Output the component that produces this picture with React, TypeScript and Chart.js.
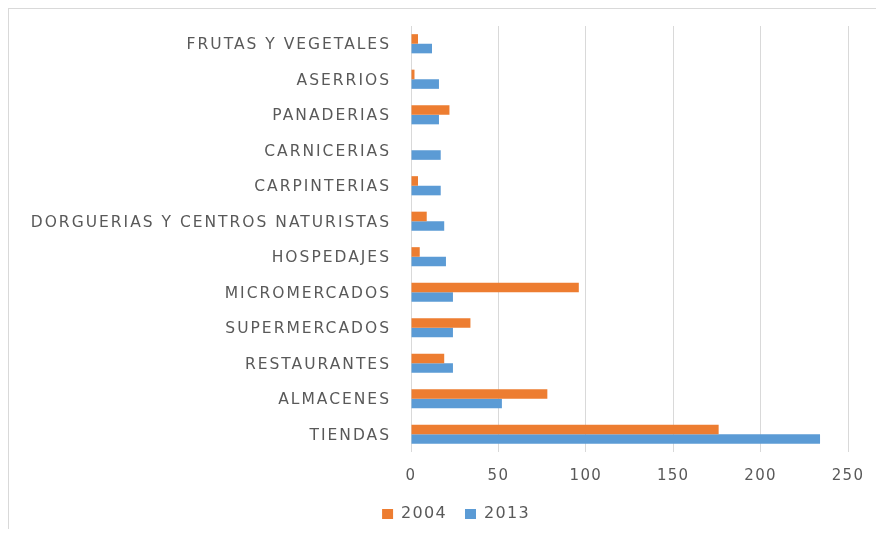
import React, { useEffect, useRef } from 'react';
import { Chart, registerables } from 'chart.js';

Chart.register(...registerables);

const categories = [
  'FRUTAS Y VEGETALES',
  'ASERRIOS',
  'PANADERIAS',
  'CARNICERIAS',
  'CARPINTERIAS',
  'DORGUERIAS Y CENTROS NATURISTAS',
  'HOSPEDAJES',
  'MICROMERCADOS',
  'SUPERMERCADOS',
  'RESTAURANTES',
  'ALMACENES',
  'TIENDAS',
];
const values2004 = [4, 2, 22, 0, 4, 9, 5, 96, 34, 19, 78, 176];
const values2013 = [12, 16, 16, 17, 17, 19, 20, 24, 24, 24, 52, 234];
const seriesLabels = ['2004', '2013'];
const xTicks = [0, 50, 100, 150, 200, 250];

const FONT = "'DejaVu Sans', sans-serif";
const TEXT = '#595959';
const ORANGE = '#ED7D31';
const BLUE = '#5B9BD5';
const GRID = '#D9D9D9';

const spacingPlugin = {
  id: 'letterSpacing',
  beforeLayout(chart: any) {
    chart.ctx.letterSpacing = '1.3px';
  },
  afterLayout(chart: any) {
    const ys = chart.scales.y;
    if (ys && !ys.__patched) {
      const orig = ys.drawLabels.bind(ys);
      ys._computeLabelArea = () => undefined;
      ys.drawLabels = (area: any) => {
        const c = chart.ctx;
        c.save();
        c.letterSpacing = '2px';
        c.translate(0, 1.5);
        orig(area);
        c.restore();
      };
      ys.__patched = true;
    }
  },
  beforeDraw(chart: any) {
    chart.ctx.letterSpacing = '1.3px';
  },
};

export default function App() {
  const ref = useRef<HTMLCanvasElement | null>(null);

  useEffect(() => {
    if (!ref.current) return;
    const chart = new Chart(ref.current, {
      type: 'bar',
      data: {
        labels: categories,
        datasets: [
          {
            label: seriesLabels[0],
            data: values2004,
            backgroundColor: ORANGE,
            borderWidth: 0,
            barPercentage: 1,
            categoryPercentage: 0.54,
          },
          {
            label: seriesLabels[1],
            data: values2013,
            backgroundColor: BLUE,
            borderWidth: 0,
            barPercentage: 1,
            categoryPercentage: 0.54,
          },
        ],
      },
      options: {
        indexAxis: 'y',
        responsive: false,
        animation: false,
        devicePixelRatio: 1,
        layout: { padding: { left: 55, right: 28, top: 17, bottom: -3 } },
        plugins: {
          legend: {
            position: 'bottom',
            labels: {
              boxWidth: 11,
              boxHeight: 10,
              padding: 18,
              color: TEXT,
              font: { family: FONT, size: 16 },
            },
          },
          tooltip: { enabled: false },
        },
        scales: {
          x: {
            min: 0,
            max: 250,
            afterBuildTicks: (s: any) => {
              s.ticks = xTicks.map((v) => ({ value: v }));
            },
            ticks: {
              color: TEXT,
              font: { family: FONT, size: 15 },
              padding: 15,
            },
            grid: { color: GRID, drawTicks: false, lineWidth: 1 },
            border: { display: false },
            afterFit: (s: any) => {
              s.height = 36;
              s.paddingLeft = 0;
              s.paddingRight = 0;
            },
          },
          y: {
            grid: { display: false, drawTicks: false },
            border: { display: false },
            ticks: {
              color: TEXT,
              font: { family: FONT, size: 15.5 },
              padding: 20,
              autoSkip: false,
            },
            afterFit: (s: any) => {
              s.width = 347;
              s.paddingTop = 0;
              s.paddingBottom = 0;
            },
          },
        },
      } as any,
      plugins: [spacingPlugin as any],
    });
    return () => chart.destroy();
  }, []);

  return (
    <div
      style={{
        marginLeft: -1,
        marginTop: -1,
        width: 877,
        height: 522,
        boxSizing: 'border-box',
        borderLeft: '2px solid #d9d9d9',
        borderTop: '2px solid #d9d9d9',
        background: '#ffffff',
      }}
    >
      <canvas ref={ref} width={867} height={520} style={{ display: 'block' }} />
    </div>
  );
}
